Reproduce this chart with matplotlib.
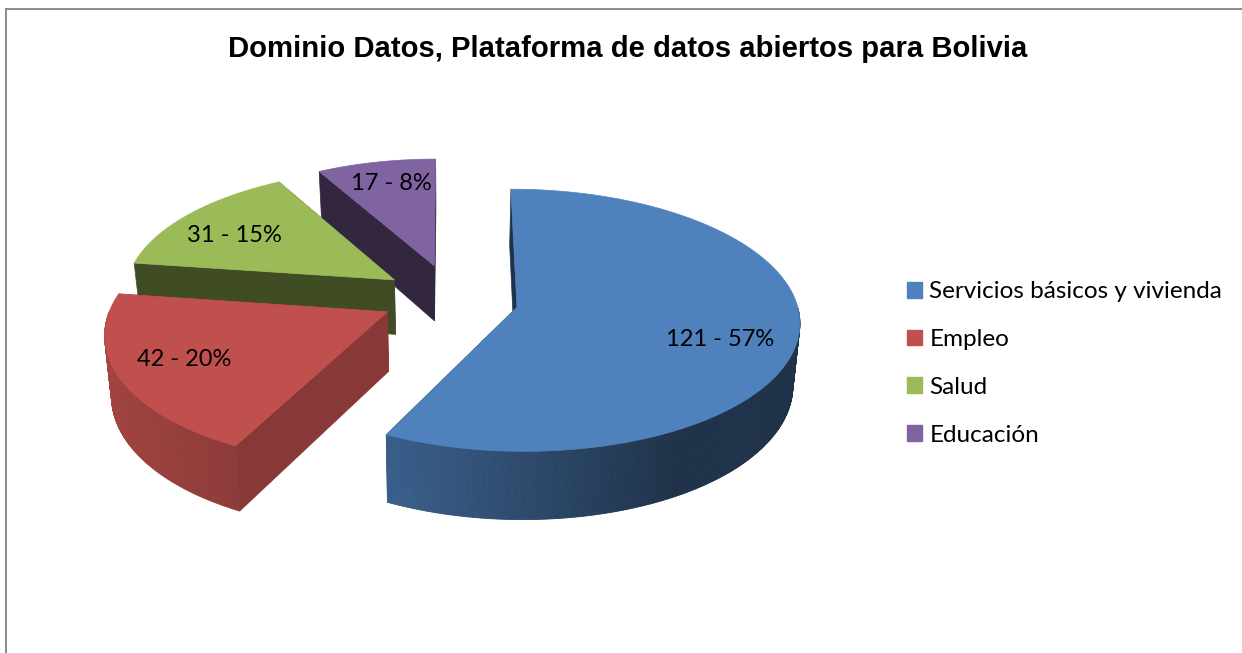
import matplotlib
matplotlib.use('Agg')
import matplotlib.pyplot as plt
import numpy as np
from matplotlib.collections import PolyCollection
from matplotlib.patches import Patch

categories = ['Servicios básicos y vivienda', 'Empleo', 'Salud', 'Educación']
values = [121, 42, 31, 17]
title = 'Dominio Datos, Plataforma de datos abiertos para Bolivia'

colors = ['#4F81BD', '#C0504D', '#9BBB59', '#8064A2']
cut_shade = [0.39, 0.71, 0.41, 0.39]
nudge = [(2, -1.4), (1, -4.5), (2, -4), (3, -6)]
radius = [0.98, 0.96, 0.95, 0.93]
depth = [1.02, 0.98, 0.92, 0.94]
persp = [0.1, 0.15, 0.1, 0.1]
label_pos = [(720, 339), (184, 359), (234, 235), (391, 184)]

# pie geometry, in pixels
cx, cy = 448, 301.5
rx, ry = 285, 131
explode = 0.24
thick = 60
start = 0


def project(u, v, dx, dy, p):
    s = 1 / (1 - p * v)
    return cx + rx * u * s + dx, cy + ry * v * s + dy, s


def top_bottom(u, v, dx, dy, d, p):
    x, y, s = project(u, v, dx, dy, p)
    return x, y, x - (x - cx) * 0.02, y + thick * d / (1 - 0.1 * v)


def shaded(col, f):
    return tuple(c * f for c in matplotlib.colors.to_rgb(col))


fig = plt.figure(figsize=(12.42, 6.53), dpi=100)
ax = fig.add_axes([0, 0, 1, 1])
ax.set_xlim(0, 1242)
ax.set_ylim(653, 0)
ax.axis('off')

# chart frame
ax.plot([5.5, 5.5, 1242], [653, 8.5, 8.5], color='#8a8a8a', lw=1.4, solid_joinstyle='miter')

total = sum(values)
fracs = np.array(values) / total
edges = start + np.concatenate([[0], np.cumsum(fracs) * 360])

# back slices first, blue goes last since it is in front
for i in [3, 2, 1, 0]:
    a0, a1 = edges[i], edges[i + 1]
    mid = np.radians((a0 + a1) / 2)
    ox, oy = explode * np.sin(mid), -explode * np.cos(mid)
    dx, dy = nudge[i]
    ang = np.radians(np.linspace(a0, a1, int(a1 - a0) * 2 + 2))
    us = ox + radius[i] * np.sin(ang)
    vs = oy - radius[i] * np.cos(ang)
    xt, yt, xb, yb = top_bottom(us, vs, dx, dy, depth[i], persp[i])
    ax_, ay_, bx_, by_ = top_bottom(ox, oy, dx, dy, depth[i], persp[i])

    # flat cut faces
    for j in [0, -1]:
        ax.fill([ax_, xt[j], xb[j], bx_], [ay_, yt[j], yb[j], by_],
                color=shaded(colors[i], cut_shade[i]), lw=0.5)

    # curved side, only the part that faces the viewer
    t = (1 - np.sin(ang)) / 2
    f = np.interp(t, [0.25, 0.71, 1], [0.39, 0.73, 0.85])
    quads = []
    cols = []
    for k in range(len(ang) - 1):
        if np.cos(ang[k]) < 0:
            quads.append([(xt[k], yt[k]), (xt[k + 1], yt[k + 1]), (xb[k + 1], yb[k + 1]), (xb[k], yb[k])])
            cols.append(shaded(colors[i], f[k]))
    if quads:
        ax.add_collection(PolyCollection(quads, facecolors=cols, edgecolors=cols, linewidths=0.6))

    # top
    ax.fill(np.r_[ax_, xt], np.r_[ay_, yt], color=colors[i], lw=0.5)

for i in range(len(values)):
    txt = '{0} - {1}%'.format(values[i], round(100 * values[i] / total))
    ax.text(label_pos[i][0], label_pos[i][1], txt, ha='center', va='center',
            fontsize=17, family='Lato', color='black')

ax.text(628, 49, title, ha='center', va='center', fontsize=21.1,
        family='Liberation Sans', fontweight='bold', color='black')

handles = [Patch(color=c) for c in colors]
ax.legend(handles, categories, loc='center left', bbox_to_anchor=(907, 363.5),
          bbox_transform=ax.transData, frameon=False,
          prop={'family': 'Lato', 'size': 17.5}, borderpad=0, borderaxespad=0,
          handlelength=0.62, handleheight=0.62, handletextpad=0.3, labelspacing=1.105,
          labelcolor='black')

fig.savefig('out.png', dpi=100)
